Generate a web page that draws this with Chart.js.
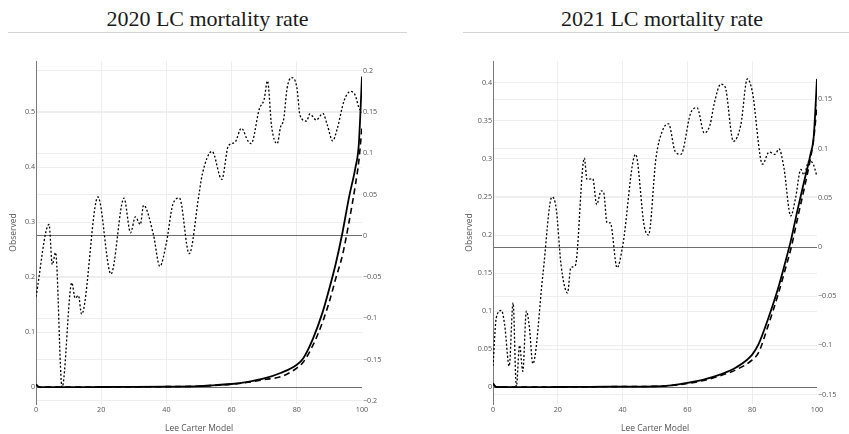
<!DOCTYPE html>
<html lang="en">
<head>
  <meta charset="UTF-8">
  <title>LC mortality rate</title>
  <script src="https://cdn.jsdelivr.net/npm/chart.js"></script>
  <style>
    body { margin: 0; background: #fff; width: 849px; height: 434px; overflow: hidden; position: relative; }
    .title { position: absolute; top: 8px; font: 22px "Liberation Serif", "Times New Roman", serif; line-height: 22px; color: #1a1a1a; text-align: center; white-space: nowrap; }
    .rule { position: absolute; top: 32px; height: 0; border-top: 1px solid #d4d4d4; }
    canvas { position: absolute; top: 40px; }
  </style>
</head>
<body>

  <div class="title" style="left: 8px; width: 399px;">2020 LC mortality rate</div>
  <div class="rule" style="left: 8px; width: 399px;"></div>
  <canvas id="c2020" width="424" height="394" style="left: 0;"></canvas>

  <div class="title" style="left: 463px; width: 398px;">2021 LC mortality rate</div>
  <div class="rule" style="left: 463px; width: 386px;"></div>
  <canvas id="c2021" width="409" height="394" style="left: 440px;"></canvas>

  <script>
  // ages and values
  const obsAges2020 = [0, 4, 5, 6, 8, 11, 12, 13, 14, 19, 23, 27, 29, 30.5, 32, 33, 36, 38, 40, 42, 44, 47, 50, 51, 54, 57, 59, 61, 63, 65, 66, 68.5, 70, 71, 72.3, 74, 75, 76, 77, 78.4, 80, 81, 83, 84, 86, 88, 89.4, 91, 92.4, 94.5, 96.5, 98, 99, 100];
  const obs2020     = [0.165, 0.296, 0.223, 0.245, 0.0, 0.19, 0.162, 0.167, 0.133, 0.346, 0.206, 0.344, 0.281, 0.31, 0.296, 0.331, 0.278, 0.22, 0.263, 0.333, 0.344, 0.243, 0.351, 0.387, 0.429, 0.378, 0.439, 0.445, 0.471, 0.448, 0.443, 0.506, 0.524, 0.557, 0.473, 0.443, 0.473, 0.488, 0.543, 0.563, 0.546, 0.494, 0.484, 0.497, 0.486, 0.498, 0.476, 0.448, 0.47, 0.521, 0.538, 0.53, 0.509, 0.5];

  const obsAges2021 = [0, 1, 2.6, 3.6, 5, 6.2, 7.2, 8.2, 9.2, 10.3, 11.2, 12.3, 15.4, 18.2, 19.5, 21, 23, 24, 25.4, 28.2, 29, 30.8, 32, 33.4, 34.2, 35.2, 36.2, 38.3, 40, 44, 46.7, 48, 50.3, 52.4, 54.2, 56.2, 58, 61, 63, 65.2, 67, 68.3, 70.3, 71.6, 74.2, 76.5, 78.5, 80, 83.2, 85.2, 87, 88.3, 89.8, 91.9, 93.4, 95, 96, 97.5, 98.6, 100];
  const obs2021     = [0.028, 0.091, 0.101, 0.082, 0.028, 0.111, 0.001, 0.055, 0.021, 0.1, 0.08, 0.031, 0.148, 0.25, 0.235, 0.161, 0.124, 0.157, 0.16, 0.301, 0.273, 0.274, 0.24, 0.258, 0.255, 0.216, 0.216, 0.157, 0.185, 0.306, 0.211, 0.2, 0.301, 0.338, 0.346, 0.31, 0.306, 0.36, 0.367, 0.334, 0.345, 0.373, 0.398, 0.395, 0.323, 0.345, 0.405, 0.389, 0.293, 0.309, 0.306, 0.313, 0.288, 0.225, 0.249, 0.286, 0.279, 0.297, 0.295, 0.277];

  const curveAges = [0, 1, 10, 20, 30, 40, 50, 55, 60, 65, 70, 75, 80, 82, 85, 88, 90, 92, 94, 96, 98, 99, 100];
  const fit2020   = [0.005, 0.0004, 0.0002, 0.0005, 0.0007, 0.0012, 0.002, 0.004, 0.006, 0.01, 0.016, 0.026, 0.041, 0.053, 0.089, 0.138, 0.18, 0.226, 0.281, 0.345, 0.40, 0.44, 0.565];
  const model2020 = [0.005, 0.0004, 0.0002, 0.0005, 0.0007, 0.0012, 0.002, 0.0035, 0.0055, 0.009, 0.014, 0.019, 0.035, 0.046, 0.077, 0.12, 0.156, 0.199, 0.24, 0.30, 0.369, 0.41, 0.473];
  const fit2021   = [0.005, 0.0004, 0.0002, 0.0004, 0.0006, 0.001, 0.0013, 0.0026, 0.0057, 0.01, 0.0166, 0.026, 0.043, 0.057, 0.091, 0.13, 0.161, 0.194, 0.233, 0.27, 0.306, 0.33, 0.405];
  const model2021 = [0.005, 0.0004, 0.0002, 0.0004, 0.0006, 0.001, 0.0013, 0.0024, 0.005, 0.009, 0.015, 0.023, 0.036, 0.046, 0.082, 0.122, 0.152, 0.183, 0.222, 0.26, 0.301, 0.327, 0.371];

  // tick labels
  const xTicks      = [0, 20, 40, 60, 80, 100];
  const yTicks2020  = [0, 0.1, 0.2, 0.3, 0.4, 0.5];
  const y2Ticks2020 = [-0.2, -0.15, -0.1, -0.05, 0, 0.05, 0.1, 0.15, 0.2];
  const yTicks2021  = [0, 0.05, 0.1, 0.15, 0.2, 0.25, 0.3, 0.35, 0.4];
  const y2Ticks2021 = [-0.15, -0.1, -0.05, 0, 0.05, 0.1, 0.15];

  const tickFont  = { family: '"Open Sans", verdana, arial, sans-serif', size: 7.2 };
  const titleFont = { family: '"Open Sans", verdana, arial, sans-serif', size: 8.5 };
  const textColor = '#555';

  const pts = (xs, ys) => xs.map((x, i) => ({ x: x, y: ys[i] }));
  const fmt = v => String(+v.toFixed(2)).replace('-', '\u2212');
  const setTicks = list => scale => { scale.ticks = list.map(v => ({ value: v })); };
  const zeroGrid = ctx => (ctx.tick && ctx.tick.value === 0) ? '#6e6e6e' : '#eeeeee';

  function makeChart(id, o) {
    return new Chart(document.getElementById(id), {
      type: 'line',
      data: {
        datasets: [
          { label: 'Observed', data: pts(o.obsAges, o.obs), borderColor: '#000', borderWidth: 1.3,
            borderDash: [2, 2], pointRadius: 0, cubicInterpolationMode: 'monotone', yAxisID: 'y' },
          { label: 'Model', data: pts(curveAges, o.model), borderColor: '#000', borderWidth: 1.6,
            borderDash: [6, 4], pointRadius: 0, cubicInterpolationMode: 'monotone', yAxisID: 'y' },
          { label: 'Fitted', data: pts(curveAges, o.fit), borderColor: '#000', borderWidth: 1.8,
            pointRadius: 0, cubicInterpolationMode: 'monotone', yAxisID: 'y' }
        ]
      },
      options: {
        responsive: false,
        animation: false,
        layout: { padding: { top: 21, left: 0, right: 0, bottom: 0 } },
        plugins: { legend: { display: false }, tooltip: { enabled: false } },
        scales: {
          x: {
            type: 'linear', min: 0, max: 100,
            afterBuildTicks: setTicks(xTicks),
            afterFit: s => { s.height = 30; },
            border: { display: false },
            grid: { drawTicks: false,
                    color: ctx => (ctx.tick && (ctx.tick.value === 0 || ctx.tick.value === 100)) ? 'rgba(0,0,0,0)' : '#eeeeee' },
            ticks: { padding: 2, color: textColor, font: tickFont, maxRotation: 0, autoSkip: false },
            title: { display: true, text: 'Lee Carter Model', color: textColor, font: titleFont, padding: { top: 0, bottom: 0 } }
          },
          y: {
            position: 'left', min: o.yMin, max: o.yMax,
            afterBuildTicks: setTicks(o.yTicks),
            afterFit: s => { s.width = o.leftWidth; },
            border: { display: true, color: '#7a7a7a' },
            grid: { drawTicks: false, color: zeroGrid },
            ticks: { padding: 1, color: textColor, font: tickFont, callback: fmt },
            title: { display: true, text: 'Observed', color: textColor, font: titleFont, padding: { top: o.titlePad, bottom: 0 } }
          },
          y2: {
            position: 'right', min: o.y2Min, max: o.y2Max,
            afterBuildTicks: setTicks(o.y2Ticks),
            afterFit: s => { s.width = o.rightWidth; },
            border: { display: false },
            grid: { drawTicks: false, color: zeroGrid },
            ticks: { padding: 1, color: textColor, font: tickFont, callback: fmt }
          }
        }
      }
    });
  }

  makeChart('c2020', {
    obsAges: obsAges2020, obs: obs2020, fit: fit2020, model: model2020,
    yMin: -0.0304, yMax: 0.5933, yTicks: yTicks2020,
    y2Min: -0.204, y2Max: 0.2118, y2Ticks: y2Ticks2020,
    leftWidth: 36, rightWidth: 62, titlePad: 8
  });

  makeChart('c2021', {
    obsAges: obsAges2021, obs: obs2021, fit: fit2021, model: model2021,
    yMin: -0.0219, yMax: 0.4285, yTicks: yTicks2021,
    y2Min: -0.1595, y2Max: 0.189, y2Ticks: y2Ticks2021,
    leftWidth: 53, rightWidth: 32, titlePad: 24
  });
  </script>

</body>
</html>
